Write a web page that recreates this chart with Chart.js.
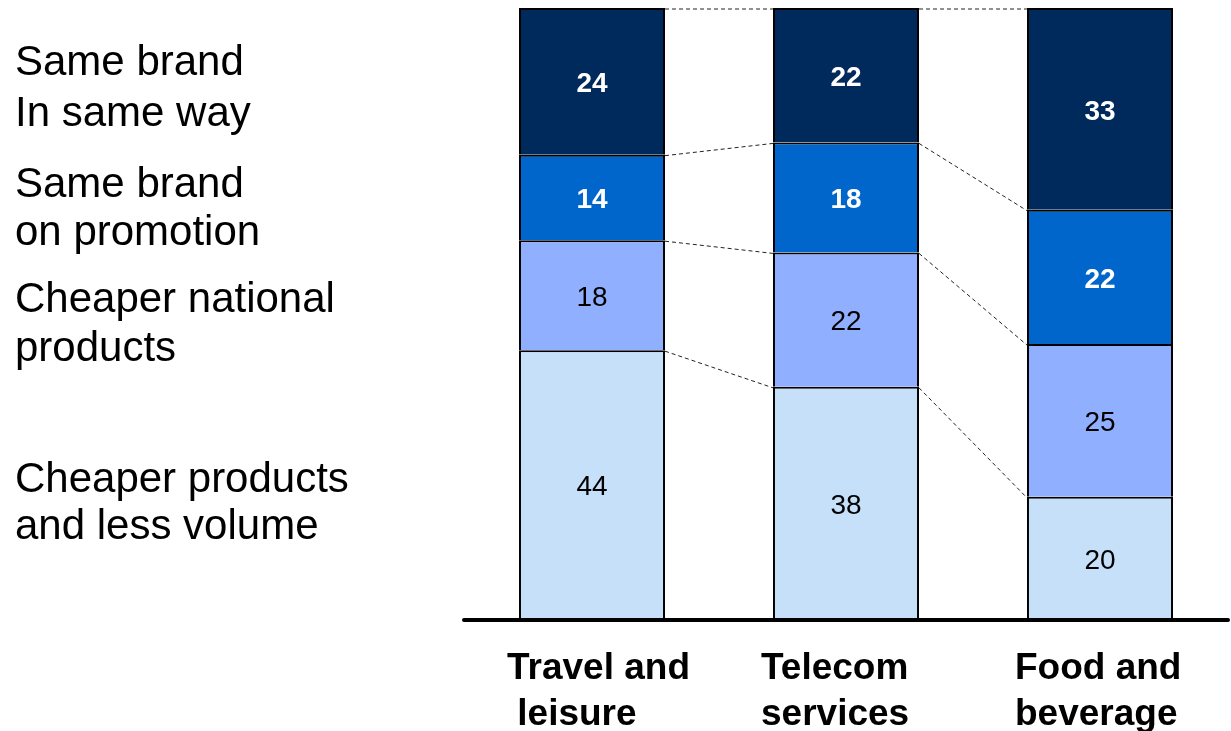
<!DOCTYPE html>
<html>
<head>
<meta charset="utf-8">
<script src="https://cdn.jsdelivr.net/npm/chart.js@4/dist/chart.umd.min.js"></script>
<style>
    html, body { margin: 0; padding: 0; background: #fff; }
    #wrap { width: 1231px; height: 731px; position: relative; }
</style>
</head>
<body>
<div id="wrap"><canvas id="myChart"></canvas></div>
<script>
const categories = [['Travel and', ' leisure'], ['Telecom', 'services'], ['Food and', 'beverage']];

// bottom to top
const lessVolume = [44, 38, 20];
const nationalProducts = [18, 22, 25];
const onPromotion = [14, 18, 22];
const sameWay = [24, 22, 33];

const seriesNames = [
    ['Cheaper products', 'and less volume'],
    ['Cheaper national', 'products'],
    ['Same brand', 'on promotion'],
    ['Same brand', 'In same way']
];
const seriesColors = ['#c6e0fa', '#91afff', '#0066cc', '#002a5c'];
const labelColors = ['#000', '#000', '#fff', '#fff'];

// baselines of the left hand labels
const nameBaselines = [[492, 539], [312, 361], [197, 245], [75, 126]];

const FONT = '"Liberation Sans", Arial, Helvetica, sans-serif';

const extras = {
    id: 'extras',
    afterDatasetsDraw: function (chart) {
        const ctx = chart.ctx;
        const metas = chart.data.datasets.map(function (d, i) { return chart.getDatasetMeta(i); });

        // dashed connectors between the bars
        ctx.save();
        ctx.strokeStyle = '#222';
        ctx.lineWidth = 1;
        ctx.setLineDash([4, 3]);
        metas.forEach(function (meta) {
            for (let i = 0; i < meta.data.length - 1; i++) {
                const a = meta.data[i];
                const b = meta.data[i + 1];
                ctx.beginPath();
                ctx.moveTo(a.x + a.width / 2, a.y + 1);
                ctx.lineTo(b.x - b.width / 2, b.y + 1);
                ctx.stroke();
            }
        });
        ctx.restore();

        // values inside the segments
        ctx.save();
        ctx.textAlign = 'center';
        ctx.textBaseline = 'middle';
        metas.forEach(function (meta, di) {
            const ds = chart.data.datasets[di];
            ctx.fillStyle = labelColors[di];
            ctx.font = (di >= 2 ? 'bold ' : '') + '28px ' + FONT;
            meta.data.forEach(function (bar, i) {
                const c = bar.getCenterPoint();
                ctx.fillText(ds.data[i], c.x, c.y + 3);
            });
        });
        ctx.restore();

        // base line
        const area = chart.chartArea;
        ctx.save();
        ctx.strokeStyle = '#000';
        ctx.lineWidth = 4;
        ctx.lineCap = 'round';
        ctx.beginPath();
        ctx.moveTo(area.left - 1, area.bottom + 1);
        ctx.lineTo(area.right + 1, area.bottom + 1);
        ctx.stroke();
        ctx.restore();

        // category labels
        ctx.save();
        ctx.fillStyle = '#000';
        ctx.font = 'bold 37px ' + FONT;
        ctx.textAlign = 'left';
        ctx.textBaseline = 'alphabetic';
        const xs = chart.scales.x;
        categories.forEach(function (lines, i) {
            const x = xs.getPixelForValue(i) - 85;
            lines.forEach(function (t, k) {
                ctx.fillText(t, x, 679 + k * 46);
            });
        });
        ctx.restore();

        // series names on the left
        ctx.save();
        ctx.fillStyle = '#000';
        ctx.font = '42px ' + FONT;
        ctx.textAlign = 'left';
        seriesNames.forEach(function (lines, i) {
            lines.forEach(function (t, k) {
                ctx.fillText(t, 15, nameBaselines[i][k]);
            });
        });
        ctx.restore();
    }
};

function segment(label, values, i) {
    return {
        label: label,
        data: values,
        backgroundColor: seriesColors[i],
        borderColor: '#000',
        borderSkipped: false,
        borderWidth: { left: 2, right: 2, top: 2, bottom: 0 },
        categoryPercentage: 1,
        barPercentage: 0.575
    };
}

const data = {
    labels: categories.map(function (c) { return c.join(' '); }),
    datasets: [
        segment(seriesNames[0].join(' '), lessVolume, 0),
        segment(seriesNames[1].join(' '), nationalProducts, 1),
        segment(seriesNames[2].join(' '), onPromotion, 2),
        segment(seriesNames[3].join(' '), sameWay, 3)
    ]
};

const config = {
    type: 'bar',
    data: data,
    options: {
        responsive: false,
        animation: false,
        layout: { padding: { left: 465, right: 4, top: 8, bottom: 112 } },
        plugins: {
            legend: { display: false },
            tooltip: { enabled: false }
        },
        scales: {
            x: { display: false, stacked: true },
            y: { display: false, stacked: true, min: 0, max: 100 }
        }
    },
    plugins: [extras]
};

const canvas = document.getElementById('myChart');
canvas.width = 1231;
canvas.height = 731;
const myChart = new Chart(canvas, config);
</script>
</body>
</html>
